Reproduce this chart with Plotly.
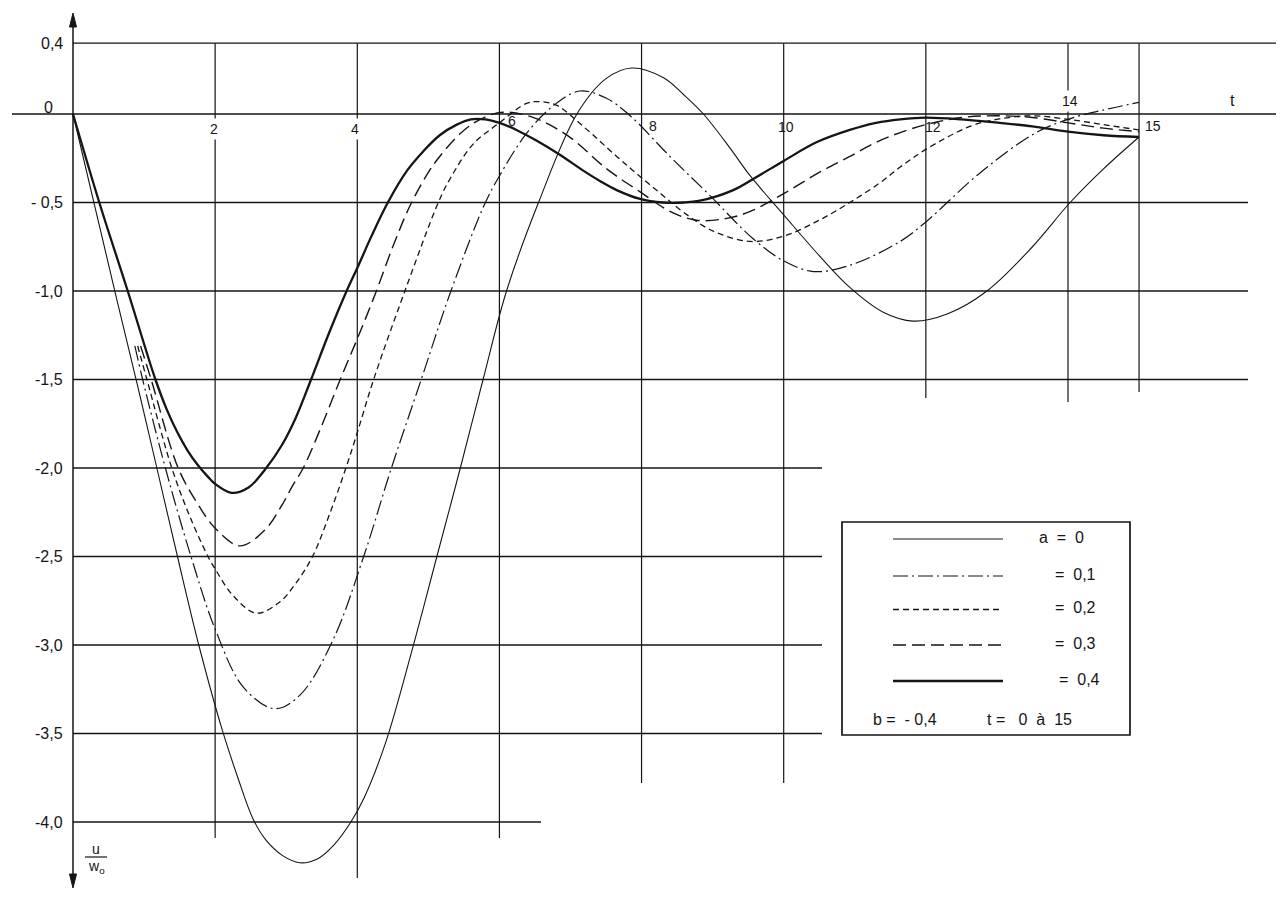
import plotly.graph_objects as go

# ---------------- data ----------------
# u/w0 against t, b = -0.4, for a = 0 ... 0.4
t_a0 = [0, 0.3, 0.6, 0.9, 1.18, 1.47, 1.77, 2.1, 2.32, 2.53, 2.71, 2.95, 3.19, 3.43, 3.67, 3.91,
        4.1, 4.4, 4.77, 5.12, 5.45, 5.77, 6.1, 6.55, 7.09, 7.5, 7.86, 8.31, 8.59, 8.87, 9.24, 9.53,
        10.0, 10.5, 10.93, 11.4, 11.82, 12.3, 12.86, 13.5, 14.03, 14.5, 15]
u_a0 = [0, -0.51, -1.02, -1.52, -2.0, -2.5, -3.0, -3.48, -3.75, -3.98, -4.10, -4.19, -4.23, -4.21,
        -4.13, -4.0, -3.86, -3.55, -3.03, -2.5, -2.0, -1.5, -1.0, -0.5, 0.0, 0.2, 0.26, 0.205, 0.11,
        0.0, -0.19, -0.35, -0.57, -0.8, -0.98, -1.12, -1.17, -1.13, -1.0, -0.75, -0.5, -0.31, -0.13]

t_a1 = [0.87, 0.98, 1.3, 1.66, 2.0, 2.4, 2.84, 3.2, 3.66, 4.09, 4.48, 4.9, 5.3, 5.78, 6.0, 6.4,
        6.8, 7.13, 7.5, 7.84, 8.4, 8.96, 9.57, 10.0, 10.42, 10.93, 11.64, 12.0, 12.77, 13.53, 14.0,
        14.47, 15]
u_a1 = [-1.31, -1.5, -2.0, -2.5, -2.91, -3.24, -3.36, -3.28, -2.97, -2.5, -2.0, -1.5, -1.02, -0.52,
        -0.35, -0.1, 0.06, 0.13, 0.09, -0.01, -0.24, -0.46, -0.705, -0.83, -0.89, -0.855, -0.72,
        -0.61, -0.33, -0.11, -0.03, 0.02, 0.066]

t_a2 = [0.91, 1.04, 1.39, 1.65, 1.9, 2.0, 2.25, 2.58, 2.9, 3.12, 3.37, 3.62, 3.84, 4.0, 4.23, 4.67,
        5.14, 5.3, 5.63, 6.0, 6.38, 6.55, 6.8, 7.18, 7.65, 7.97, 8.3, 8.59, 9.0, 9.53, 10.0, 10.5,
        10.93, 11.35, 11.64, 12.0, 12.62, 13.0, 13.5, 14.0, 14.5, 15]
u_a2 = [-1.31, -1.5, -2.0, -2.28, -2.5, -2.57, -2.72, -2.82, -2.76, -2.66, -2.5, -2.25, -2.0, -1.8,
        -1.5, -1.0, -0.5, -0.37, -0.17, -0.05, 0.06, 0.07, 0.05, -0.07, -0.24, -0.35, -0.46, -0.555,
        -0.66, -0.72, -0.69, -0.6, -0.5, -0.39, -0.3, -0.2, -0.07, -0.03, -0.01, -0.03, -0.06, -0.09]

t_a3 = [0.95, 1.1, 1.48, 1.75, 2.0, 2.35, 2.7, 2.94, 3.09, 3.24, 3.5, 3.76, 4.0, 4.25, 4.5, 4.74,
        5.0, 5.16, 5.45, 5.73, 6.05, 6.48, 6.97, 7.51, 7.98, 8.4, 8.77, 9.2, 9.53, 10.0, 10.5, 10.93,
        11.3, 11.64, 12.0, 12.5, 13.0, 13.5, 14.0, 14.5, 15]
u_a3 = [-1.31, -1.5, -2.0, -2.2, -2.34, -2.44, -2.35, -2.21, -2.1, -2.0, -1.76, -1.5, -1.27,
        -1.02, -0.75, -0.52, -0.33, -0.24, -0.11, -0.03, 0.01, -0.02, -0.125, -0.31, -0.44, -0.55,
        -0.6, -0.59, -0.55, -0.45, -0.33, -0.24, -0.16, -0.105, -0.06, -0.02, -0.01, -0.02, -0.05,
        -0.08, -0.10]

t_a4 = [0, 0.37, 0.77, 1.16, 1.32, 1.47, 1.61, 1.75, 1.9, 2.0, 2.23, 2.47, 2.7, 2.94, 3.13, 3.35,
        3.6, 3.85, 4.0, 4.2, 4.43, 4.7, 4.93, 5.16, 5.4, 5.6, 5.8, 6.0, 6.24, 6.52, 6.85, 7.18, 7.42,
        7.65, 7.98, 8.3, 8.59, 8.82, 9.29, 9.6, 10.0, 10.46, 10.93, 11.3, 11.64, 12.0, 12.5, 13.04,
        13.5, 14.0, 14.5, 15]
u_a4 = [0, -0.5, -1.0, -1.5, -1.67, -1.8, -1.9, -1.98, -2.05, -2.09, -2.14, -2.11, -2.01, -1.87,
        -1.72, -1.5, -1.24, -1.0, -0.87, -0.69, -0.5, -0.32, -0.21, -0.12, -0.06, -0.03, -0.03,
        -0.05, -0.09, -0.15, -0.23, -0.32, -0.38, -0.43, -0.48, -0.5, -0.5, -0.49, -0.43, -0.36,
        -0.265, -0.16, -0.09, -0.05, -0.03, -0.02, -0.03, -0.05, -0.07, -0.10, -0.12, -0.13]

series_t = [t_a0, t_a1, t_a2, t_a3, t_a4]
series_u = [u_a0, u_a1, u_a2, u_a3, u_a4]
series_labels = ["a = 0", "= 0,1", "= 0,2", "= 0,3", "= 0,4"]

x_ticks = [2, 4, 6, 8, 10, 12, 14, 15]
x_tick_labels = ["2", "4", "6", "8", "10", "12", "14", "15"]
y_ticks = [0.4, 0, -0.5, -1.0, -1.5, -2.0, -2.5, -3.0, -3.5, -4.0]
y_tick_labels = ["0,4", "0", "- 0,5", "-1,0", "-1,5", "-2,0", "-2,5", "-3,0", "-3,5", "-4,0"]

# ---------------- layout helpers (page pixels -> data) ----------------
OFF = 8            # default body margin of the page
FW, FH = 1268, 881


def X(px):
    return (px - 73) / 71.07


def Y(py):
    return (114.0 - py) / 177.0


INK = "#151515"
FONT = "Liberation Sans, Arial, sans-serif"

styles = [
    dict(width=1.1, dash="solid"),
    dict(width=1.2, dash="15px,4px,2px,4px"),
    dict(width=1.3, dash="6px,4px"),
    dict(width=1.4, dash="13px,6px"),
    dict(width=2.3, dash="solid"),
]

fig = go.Figure()

# curves
for tt, uu, st, lab in zip(series_t, series_u, styles, series_labels):
    fig.add_trace(go.Scatter(x=tt, y=uu, mode="lines", name=lab, showlegend=False,
                             line=dict(color=INK, width=st["width"], dash=st["dash"],
                                       shape="spline", smoothing=1.0),
                             hoverinfo="skip"))

shapes = []
# horizontal grid lines (partial extents as in the drawing)
h_right_px = {0.4: 1290, 0: 1290, -0.5: 1248, -1.0: 1248, -1.5: 1248, -2.0: 822, -2.5: 822,
              -3.0: 822, -3.5: 822, -4.0: 541}
for v in y_ticks:
    left = X(12) if v == 0 else 0
    shapes.append(dict(type="line", xref="x", yref="y", x0=left, x1=X(h_right_px[v]), y0=v, y1=v,
                       line=dict(color=INK, width=1.3), layer="below"))
# vertical grid lines
v_bottom_px = {2: 838, 4: 878, 6: 838, 8: 783, 10: 783, 12: 398, 14: 402, 15: 392}
for t in x_ticks:
    shapes.append(dict(type="line", xref="x", yref="y", x0=t, x1=t, y0=y_ticks[0],
                       y1=Y(v_bottom_px[t]), line=dict(color=INK, width=1.2), layer="below"))
# ordinate axis with arrows
shapes.append(dict(type="line", xref="x", yref="y", x0=0, x1=0, y0=Y(20), y1=Y(880),
                   line=dict(color=INK, width=1.5)))
for tip, base in ((13, 27), (888, 874)):
    shapes.append(dict(type="path", xref="x", yref="y",
                       path=f"M {X(73)},{Y(tip)} L {X(69.5)},{Y(base)} L {X(76.5)},{Y(base)} Z",
                       fillcolor=INK, line=dict(color=INK, width=1)))
# fraction bar of u / w0
shapes.append(dict(type="line", xref="x", yref="y", x0=X(85), x1=X(107), y0=Y(857), y1=Y(857),
                   line=dict(color=INK, width=1.2)))

# legend box
shapes.append(dict(type="rect", xref="x", yref="y", x0=X(842), x1=X(1130), y0=Y(522), y1=Y(735),
                   line=dict(color=INK, width=1.7), fillcolor="white", layer="above"))
leg_y = [539, 576, 609.5, 645, 681]
for st, ly in zip(styles, leg_y):
    shapes.append(dict(type="line", xref="x", yref="y", x0=X(893), x1=X(1003), y0=Y(ly), y1=Y(ly),
                       line=dict(color=INK, width=st["width"], dash=st["dash"]), layer="above"))

annotations = []
# y tick labels
for v, lab in zip(y_ticks, y_tick_labels):
    if v == 0:
        annotations.append(dict(x=X(48), y=Y(107), text=lab, xanchor="center", yanchor="middle",
                                font=dict(size=16)))
    else:
        annotations.append(dict(x=X(65), y=v, text=lab, xanchor="right", yanchor="middle",
                                font=dict(size=16)))
# x tick labels (positions as placed on the drawing)
x_lab_pos = {2: (214, 129, True), 4: (355, 129, True), 6: (512, 121, False), 8: (653, 126, False),
             10: (786, 127, False), 12: (933, 127, False), 14: (1070, 101, True), 15: (1153, 126, False)}
for t, lab in zip(x_ticks, x_tick_labels):
    px, py, bg = x_lab_pos[t]
    a = dict(x=X(px), y=Y(py), text=lab, xanchor="center", yanchor="middle", font=dict(size=14))
    if bg:
        a.update(bgcolor="white", borderpad=2)
    annotations.append(a)
annotations.append(dict(x=X(1232), y=Y(100), text="t", xanchor="center", yanchor="middle",
                        font=dict(size=16)))
# ordinate label u / w0
annotations.append(dict(x=X(96), y=Y(849), text="u", xanchor="center", yanchor="middle",
                        font=dict(size=14)))
annotations.append(dict(x=X(96), y=Y(867), text="w<sub>o</sub>", xanchor="center", yanchor="middle",
                        font=dict(size=14)))
# legend texts
leg_text_x = [1037, 1053, 1053, 1053, 1057]
for lab, lx, ly in zip(series_labels, leg_text_x, leg_y):
    annotations.append(dict(x=X(lx), y=Y(ly - 2), text=lab.replace(" ", "\u00a0\u00a0"),
                            xanchor="left", yanchor="middle", font=dict(size=16)))
annotations.append(dict(x=X(871), y=Y(719), text="b\u00a0=\u00a0\u00a0-\u00a00,4", xanchor="left",
                        yanchor="middle", font=dict(size=16)))
annotations.append(dict(x=X(985), y=Y(719), text="t\u00a0=\u00a0\u00a0\u00a00\u00a0\u00a0à\u00a0\u00a015",
                        xanchor="left", yanchor="middle", font=dict(size=16)))
for a in annotations:
    a["showarrow"] = False
    a["xref"] = "x"
    a["yref"] = "y"
    a["font"] = dict(family=FONT, color=INK, size=a["font"]["size"])

fig.update_layout(
    width=FW, height=FH, autosize=False,
    margin=dict(l=0, r=0, t=0, b=0, pad=0),
    paper_bgcolor="white", plot_bgcolor="white",
    xaxis=dict(range=[X(OFF), X(OFF + FW)], visible=False, fixedrange=True),
    yaxis=dict(range=[Y(OFF + FH), Y(OFF)], visible=False, fixedrange=True),
    shapes=shapes, annotations=annotations, showlegend=False,
    font=dict(family=FONT, color=INK, size=14),
)

fig.write_html("out.html")
